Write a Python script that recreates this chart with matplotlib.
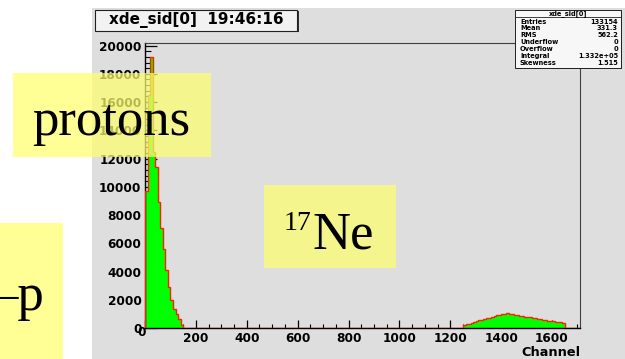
import numpy as np
import matplotlib
matplotlib.use("Agg")
import matplotlib.pyplot as plt
from matplotlib.patches import Rectangle
from matplotlib.lines import Line2D
from matplotlib.ticker import MultipleLocator, FixedLocator
import matplotlib.transforms as mtransforms

# ---- histogram contents (10-channel bins) ----
bin_width = 10
low_start = 0
low_counts = [9700, 16500, 19200, 12500, 11400, 8900, 7100, 5600,
              4100, 2950, 2000, 1400, 1000, 650, 250]
high_start = 1250
high_counts = [250, 290, 330, 380, 430, 520, 560, 610, 650, 700,
               750, 800, 860, 910, 960, 1000, 1030, 1050, 1040, 1010,
               970, 930, 900, 860, 830, 800, 770, 740, 700, 670,
               640, 610, 580, 550, 520, 500, 480, 450, 420, 390]
x_range = (0, 1710)
y_max = 20160
x_ticks = [0, 200, 400, 600, 800, 1000, 1200, 1400, 1600]
y_ticks = [0, 2000, 4000, 6000, 8000, 10000, 12000, 14000, 16000, 18000, 20000]

title_text = "xde_sid[0]  19:46:16"
x_label = "Channel"
stats_name = "xde_sid[0]"
stats_labels = ["Entries", "Mean", "RMS", "Underflow", "Overflow", "Integral", "Skewness"]
stats_values = ["133154", "331.3", "562.2", "0", "0", "1.332e+05", "1.515"]

note_protons = "protons"
note_mass = "17"
note_element = "Ne"
note_decay = "\u2013p"

# ---- build the binned histogram ----
edges = np.arange(x_range[0], x_range[1] + bin_width, bin_width)
counts = np.zeros(len(edges) - 1)
i0 = (low_start - x_range[0]) // bin_width
counts[i0:i0 + len(low_counts)] = low_counts
i1 = (high_start - x_range[0]) // bin_width
counts[i1:i1 + len(high_counts)] = high_counts

W, H = 625, 359
fig = plt.figure(figsize=(W / 100, H / 100), dpi=100)
fig.patch.set_facecolor("white")


def fx(x):
    return x / W


def fy(y):
    return 1 - y / H


def frect(x0, y0, x1, y1, **kw):
    r = Rectangle((fx(x0), fy(y1)), (x1 - x0) / W, (y1 - y0) / H,
                  transform=fig.transFigure, **kw)
    fig.add_artist(r)
    return r


canvas_grey = "#dedede"
root_font = "DejaVu Sans"
slide_font = "Liberation Serif"

# canvas background
frect(92, 8, W, H + 2, facecolor=canvas_grey, edgecolor="none", zorder=-5)

ax = fig.add_axes([fx(145), fy(328.3), fx(580) - fx(145), fy(43.3) - fy(328.3)])
ax.set_facecolor(canvas_grey)
ax.stairs(counts, edges, fill=True, color="#00ff00", zorder=2)
ax.stairs(counts, edges, color="#ff2000", linewidth=1.0, zorder=3)
ax.set_xlim(*x_range)
ax.set_ylim(0, y_max)

ax.xaxis.set_major_locator(FixedLocator(x_ticks))
ax.xaxis.set_minor_locator(MultipleLocator(50))
ax.yaxis.set_major_locator(FixedLocator(y_ticks))
ax.yaxis.set_minor_locator(MultipleLocator(400))
ax.tick_params(axis="both", which="both", direction="in", colors="black",
               top=False, right=False)
ax.tick_params(axis="y", which="major", length=8.5, width=0.9, pad=2.5,
               labelsize=8.7)
ax.tick_params(axis="y", which="minor", length=4.0, width=0.8)
ax.tick_params(axis="x", which="major", length=6.0, width=0.9, pad=2.8,
               labelsize=8.7)
ax.tick_params(axis="x", which="minor", length=3.0, width=0.8)
for lab in ax.get_xticklabels() + ax.get_yticklabels():
    lab.set_fontfamily(root_font)
    lab.set_fontweight("bold")
# ROOT draws the x-axis zero slightly up and to the left
zero_lab = ax.get_xticklabels()[0]
zero_lab.set_transform(zero_lab.get_transform() +
                       mtransforms.ScaledTranslation(-3 / 100, 6 / 100,
                                                     fig.dpi_scale_trans))

for side in ("left", "bottom"):
    ax.spines[side].set_color("black")
    ax.spines[side].set_linewidth(1.0)
for side in ("top", "right"):
    ax.spines[side].set_color("#404040")
    ax.spines[side].set_linewidth(0.8)

fig.text(fx(580), fy(352), x_label, ha="right", va="center",
         family=root_font, weight="bold", fontsize=9.3)

# title box with shadow
frect(96.5, 11.5, 298.5, 32.2, facecolor="#303030", edgecolor="none", zorder=6)
frect(95, 10, 297, 30.7, facecolor="#f2f2f2", edgecolor="#202020",
      linewidth=0.8, zorder=7)
fig.text(fx(196), fy(20.3), title_text, ha="center", va="center",
         family=root_font, weight="bold", fontsize=11, zorder=8)

# statistics box
frect(516.2, 11.2, 621.9, 69.2, facecolor="#303030", edgecolor="none", zorder=6)
frect(515, 10, 620.7, 68, facecolor="#f7f7f7", edgecolor="#202020",
      linewidth=0.7, zorder=7)
fig.add_artist(Line2D([fx(515), fx(620.7)], [fy(17.3), fy(17.3)],
                      transform=fig.transFigure, color="#202020",
                      linewidth=0.6, zorder=8))
fig.text(fx(568), fy(13.8), stats_name, ha="center", va="center",
         family=root_font, weight="bold", fontsize=4.8, zorder=8)
row_y = [21.7, 28.3, 34.6, 42.3, 49.3, 56.0, 63.3]
for yy, lab, val in zip(row_y, stats_labels, stats_values):
    fig.text(fx(520), fy(yy), lab, ha="left", va="center",
             family=root_font, weight="bold", fontsize=4.8, zorder=8)
    fig.text(fx(618), fy(yy), val, ha="right", va="center",
             family=root_font, weight="bold", fontsize=4.8, zorder=8)

# slide annotation boxes
note_fill = (1.0, 1.0, 0.43)
note_alpha = 0.72
frect(12.7, 73.3, 211, 156.7, facecolor=note_fill, alpha=note_alpha,
      edgecolor="none", zorder=10)
fig.text(fx(111), fy(135), note_protons, ha="center", va="baseline",
         family=slide_font, fontsize=38, zorder=11)

frect(264, 185, 396, 268.3, facecolor=note_fill, alpha=note_alpha,
      edgecolor="none", zorder=10)
fig.text(fx(284), fy(230), note_mass, ha="left", va="baseline",
         family=slide_font, fontsize=20, zorder=11)
fig.text(fx(312), fy(248.3), note_element, ha="left", va="baseline",
         family=slide_font, fontsize=38, zorder=11)

frect(-2, 222.7, 63.3, H + 2, facecolor=note_fill, alpha=note_alpha,
      edgecolor="none", zorder=10)
fig.text(fx(44), fy(310), note_decay, ha="right", va="baseline",
         family=slide_font, fontsize=38, zorder=11)

fig.savefig("out.png", dpi=100, facecolor=fig.get_facecolor())
